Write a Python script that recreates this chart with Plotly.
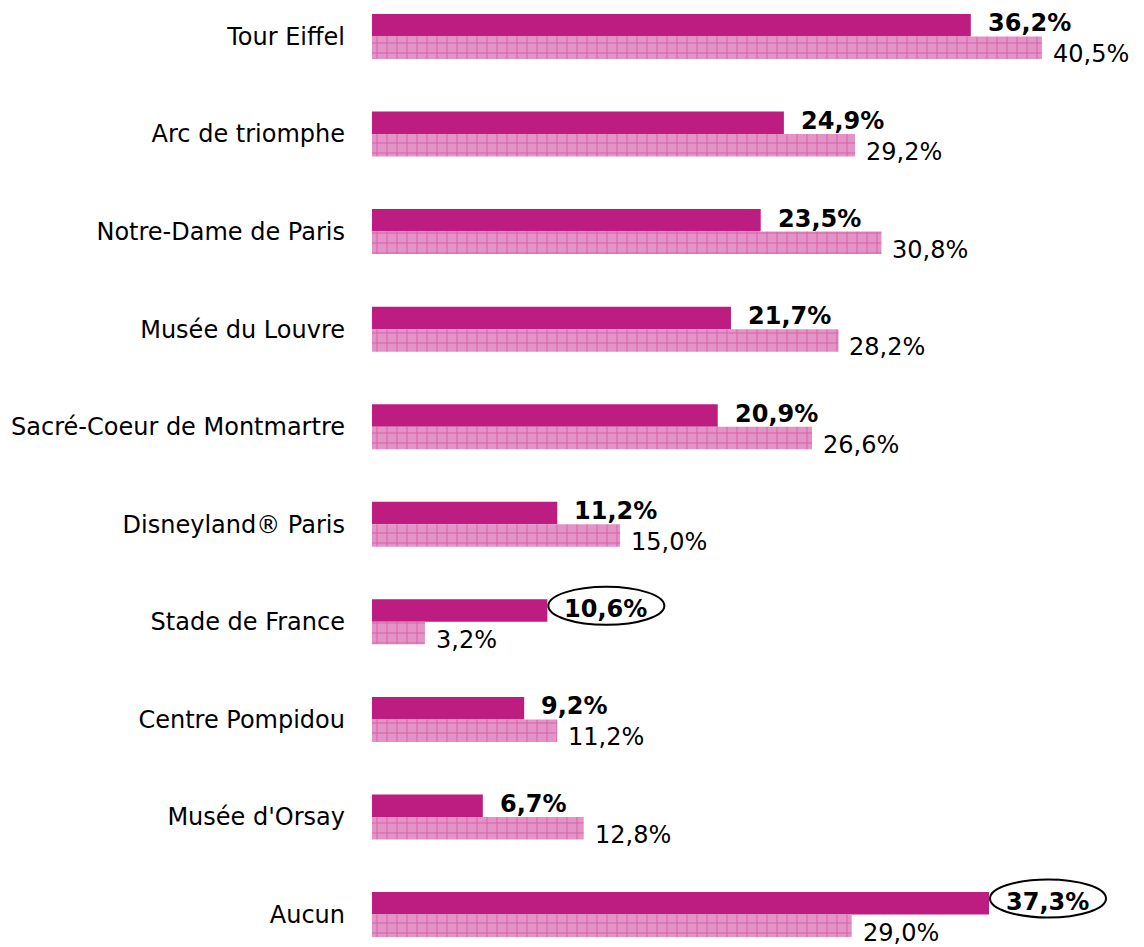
import plotly.graph_objects as go

sites = [
    "Tour Eiffel", "Arc de triomphe", "Notre-Dame de Paris", "Musée du Louvre",
    "Sacré-Coeur de Montmartre", "Disneyland® Paris", "Stade de France",
    "Centre Pompidou", "Musée d'Orsay", "Aucun",
]
serie_a = [36.2, 24.9, 23.5, 21.7, 20.9, 11.2, 10.6, 9.2, 6.7, 37.3]
serie_b = [40.5, 29.2, 30.8, 28.2, 26.6, 15.0, 3.2, 11.2, 12.8, 29.0]
highlighted = ["Stade de France", "Aucun"]

SOLID = "#BD1D80"
FG = "#C92F8F"
BG = "#E393C6"
FONT = "DejaVu Sans"

# the page body keeps its 8px margin, so the figure is 8px smaller
W, H = 1136, 939


def fmt(v):
    return f"{v:.1f}".replace(".", ",") + "%"


pos = list(range(len(sites)))

fig = go.Figure()
fig.add_trace(go.Bar(
    y=pos, x=serie_a, orientation="h", name="a",
    marker=dict(color=SOLID, line=dict(width=0)),
))
fig.add_trace(go.Bar(
    y=pos, x=serie_b, orientation="h", name="b",
    marker=dict(color=BG, line=dict(width=0),
                pattern=dict(shape="+", fgcolor=FG, bgcolor=BG, size=10, solidity=0.18)),
))

for i, (site, a, b) in enumerate(zip(sites, serie_a, serie_b)):
    fig.add_annotation(x=a, y=i, text=fmt(a), showarrow=False, xanchor="left",
                       xshift=15, yshift=13,
                       font=dict(family=FONT, size=24, color="black", weight="bold"))
    fig.add_annotation(x=b, y=i, text=fmt(b), showarrow=False, xanchor="left",
                       xshift=9, yshift=-18,
                       font=dict(family=FONT, size=24, color="black"))
    if site in highlighted:
        fig.add_shape(type="circle", xref="x", yref="y",
                      xsizemode="pixel", ysizemode="pixel",
                      xanchor=a, yanchor=i, x0=1, x1=117, y0=-3, y1=35,
                      line=dict(color="black", width=2))

fig.update_layout(
    width=W, height=H,
    margin=dict(l=364, r=0, t=0, b=0),
    plot_bgcolor="white", paper_bgcolor="white",
    barmode="group", bargap=0.539, bargroupgap=0,
    showlegend=False,
    font=dict(family=FONT, size=24, color="black"),
)
fig.update_xaxes(range=[0, 46.67], visible=False)
fig.update_yaxes(range=[9.333, -0.292], tickmode="array", tickvals=pos, ticktext=sites,
                 showgrid=False, zeroline=False, showline=False, ticks="",
                 ticklabelstandoff=26, tickfont=dict(family=FONT, size=24))

fig.write_html("out.html")
